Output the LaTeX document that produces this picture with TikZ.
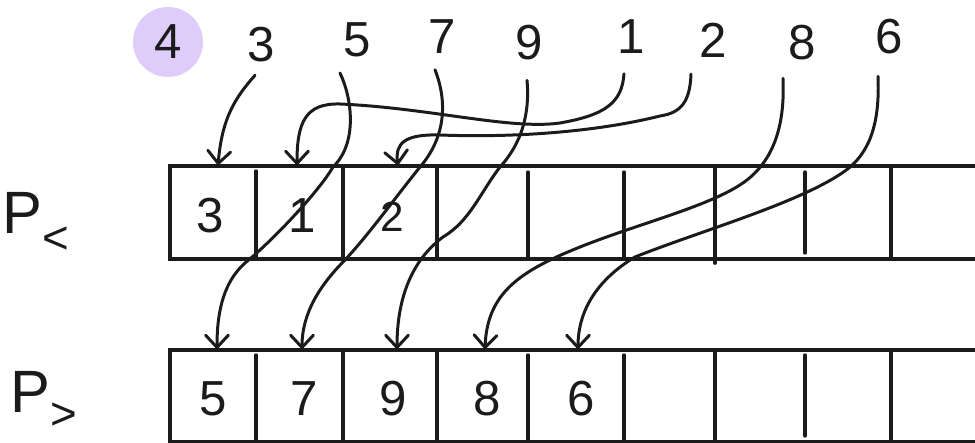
\documentclass[tikz,border=0pt]{standalone}
\usepackage{fontspec}
\setmainfont{Liberation Sans}
\usepackage{xcolor}
\usepackage{tikz}
\usetikzlibrary{arrows.meta,calc}
\definecolor{PTInk}{HTML}{1B1B1B}
\definecolor{PTLilac}{HTML}{DFCCFA}

\begin{document}
\begin{tikzpicture}[x=1cm,y=1cm,
  num/.style={font=\fontsize{28}{30}\selectfont,text=PTInk,inner sep=0.25cm},
  cell/.style={font=\fontsize{28}{30}\selectfont,text=PTInk,minimum height=1.86cm,inner sep=0pt},
  tag/.style={font=\fontsize{34}{38}\selectfont,text=PTInk,inner sep=0pt},
  frame/.style={PTInk,line width=2.2pt,line cap=round},
  tick/.style={PTInk,line width=1.9pt,line cap=round},
  move/.style={PTInk,line width=1.7pt,line cap=round,line join=round,-{Straight Barb[length=7pt,width=13pt,line cap=round]}}]
\path[use as bounding box] (0,0) rectangle (19.50,8.86);
% pivot and the input
\node[num,circle,fill=PTLilac,minimum size=1.40cm,inner sep=0pt] (t4) at (3.36,8.02) {4};
\node[num] (t3) at (5.22,7.96) {3};
\node[num] (t5) at (7.14,8.06) {5};
\node[num] (t7) at (8.84,8.12) {7};
\node[num] (t9) at (10.58,8.00) {9};
\node[num] (t1) at (12.62,8.12) {1};
\node[num] (t2) at (14.26,8.06) {2};
\node[num] (t8) at (16.04,8.00) {8};
\node[num] (t6) at (17.78,8.12) {6};
% row labels
\node[tag] (plo) at (0.72,4.40) {P\raisebox{-0.40cm}{\fontsize{26}{26}\selectfont <}};
\node[tag] (phi) at (0.88,0.86) {P\raisebox{-0.34cm}{\fontsize{26}{26}\selectfont >}};
% less-than row
\draw[frame] (19.60,5.54) -- (3.40,5.54) -- (3.40,3.68) -- (19.60,3.68);
\draw[tick] (5.12,5.44) -- (5.12,3.68);
\draw[frame] (6.86,5.54) -- (6.86,3.68);
\draw[frame] (8.74,5.54) -- (8.74,3.68);
\draw[tick] (10.56,5.42) -- (10.56,3.68);
\draw[tick] (12.48,5.42) -- (12.48,3.68);
\draw[frame] (14.30,5.54) -- (14.30,3.60);
\draw[tick] (16.10,5.42) -- (16.10,3.80);
\draw[frame] (17.82,5.54) -- (17.82,3.68);
\node[cell] (lo1) at (4.20,4.55) {3};
\node[cell] (lo2) at (6.05,4.55) {1};
\node[cell,font=\fontsize{24}{26}\selectfont] (lo3) at (7.84,4.52) {2};
% greater-than row
\draw[frame] (19.60,1.86) -- (3.40,1.86) -- (3.40,0.03) -- (19.60,0.03);
\draw[tick] (5.12,1.76) -- (5.12,0.03);
\draw[frame] (6.86,1.86) -- (6.86,0.03);
\draw[frame] (8.74,1.86) -- (8.74,0.03);
\draw[tick] (10.56,1.76) -- (10.56,0.03);
\draw[tick] (12.48,1.76) -- (12.48,0.03);
\draw[frame] (14.30,1.86) -- (14.30,0.03);
\draw[tick] (16.10,1.76) -- (16.10,0.14);
\draw[frame] (17.82,1.86) -- (17.82,0.03);
\node[cell] (hi1) at (4.26,0.88) {5};
\node[cell] (hi2) at (6.08,0.88) {7};
\node[cell] (hi3) at (7.86,0.88) {9};
\node[cell] (hi4) at (9.74,0.88) {8};
\node[cell] (hi5) at (11.62,0.88) {6};
% moves into the rows
\draw[move] ($(t3.south)+(-0.12,0)$) .. controls (4.70,6.90) and (4.44,6.50) .. ($(lo1.north)+(0.16,0.06)$);
\draw[move] ($(t1.south)+(-0.14,-0.14)$) .. controls (12.44,6.80) and (12.10,6.56) .. (11.20,6.40)
  .. controls (10.20,6.26) and (8.60,6.70) .. (6.80,6.78)
  .. controls (6.10,6.80) and (5.94,6.40) .. ($(lo2.north)+(-0.11,0.06)$);
\draw[move] ($(t2.south)+(-0.44,-0.08)$) .. controls (13.80,6.80) and (13.60,6.60) .. (13.20,6.54)
  .. controls (12.00,6.24) and (10.40,6.10) .. (8.80,6.16)
  .. controls (8.10,6.18) and (7.90,6.00) .. ($(lo3.north)+(0.12,0.09)$);
\draw[move] ($(t5.south)+(-0.34,-0.06)$) .. controls (7.04,6.90) and (7.16,6.00) .. (6.66,5.52)
  .. controls (6.36,5.00) and (5.40,4.00) .. (4.90,3.60)
  .. controls (4.50,3.24) and (4.34,2.70) .. ($(hi1.north)+(0.08,0.05)$);
\draw[move] ($(t7.south)+(-0.14,-0.06)$) .. controls (8.96,6.80) and (8.90,6.10) .. (8.40,5.52)
  .. controls (7.90,4.90) and (7.40,4.20) .. (6.90,3.66)
  .. controls (6.40,3.16) and (6.04,2.60) .. ($(hi2.north)+(-0.04,0.05)$);
\draw[move] ($(t9.south)+(-0.04,-0.14)$) .. controls (10.60,6.60) and (10.44,6.00) .. (10.00,5.52)
  .. controls (9.60,5.00) and (9.40,4.44) .. (8.86,4.12)
  .. controls (8.30,3.70) and (7.94,3.00) .. ($(hi3.north)+(0.08,0.05)$);
\draw[move] ($(t8.south)+(-0.38,-0.10)$) .. controls (15.70,6.40) and (15.50,5.70) .. (14.94,5.26)
  .. controls (14.30,4.76) and (12.80,4.40) .. (11.60,3.92)
  .. controls (10.40,3.44) and (9.74,3.00) .. ($(hi4.north)+(-0.04,0.05)$);
\draw[move] ($(t6.south)+(-0.22,-0.18)$) .. controls (17.60,6.40) and (17.40,5.80) .. (16.90,5.44)
  .. controls (16.00,4.80) and (14.00,4.24) .. (12.70,3.72)
  .. controls (12.00,3.30) and (11.56,2.70) .. ($(hi5.north)+(-0.06,0.05)$);
\end{tikzpicture}
\end{document}
